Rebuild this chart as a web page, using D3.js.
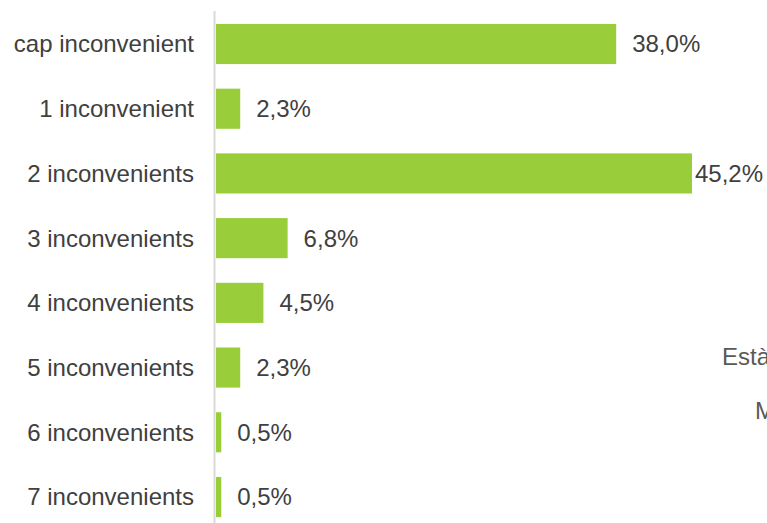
<!DOCTYPE html>
<html>
<head>
<meta charset="utf-8">
<script src="https://cdn.jsdelivr.net/npm/d3@7"></script>
<style>
  html, body { margin: 0; padding: 0; background: #fff; overflow: hidden; }
  text { font-family: "Liberation Sans", Arial, sans-serif; }
</style>
</head>
<body>
<div id="main"></div>
<script>
const categories = ["cap inconvenient", "1 inconvenient", "2 inconvenients", "3 inconvenients",
    "4 inconvenients", "5 inconvenients", "6 inconvenients", "7 inconvenients"];
const values = [38.0, 2.3, 45.2, 6.8, 4.5, 2.3, 0.5, 0.5];
const sideTexts = ["Està", "M"];

const W = 767, H = 523;
const fontSize = "24px";

const svg = d3.select("#main")
    .append("svg")
    .attr("width", W)
    .attr("height", H);

const x = d3.scaleLinear()
    .domain([0, 45.2])
    .range([216, 692]);

const y = d3.scaleBand()
    .domain(categories)
    .range([11, 530])
    .paddingInner(0.38)
    .paddingOuter(0.2);

const data = categories.map((c, i) => ({ cat: c, val: values[i] }));

// barres
svg.selectAll("rect.bar")
    .data(data)
    .join("rect")
    .attr("class", "bar")
    .attr("x", x(0))
    .attr("y", d => y(d.cat))
    .attr("width", d => x(d.val) - x(0))
    .attr("height", y.bandwidth())
    .style("fill", "#9ACD3A");

// eix vertical
svg.append("line")
    .attr("x1", 214.5).attr("x2", 214.5)
    .attr("y1", 11).attr("y2", H)
    .style("stroke", "#d9d9d9")
    .style("stroke-width", 2);

// etiquetes de categoria
svg.selectAll("text.cat")
    .data(data)
    .join("text")
    .attr("class", "cat")
    .attr("x", 194)
    .attr("y", d => y(d.cat) + y.bandwidth() / 2)
    .attr("dy", "0.35em")
    .attr("text-anchor", "end")
    .style("font-size", fontSize)
    .style("fill", "#404040")
    .text(d => d.cat);

// etiquetes de valor
const fmt = v => v.toFixed(1).replace(".", ",") + "%";
svg.selectAll("text.val")
    .data(data)
    .join("text")
    .attr("class", "val")
    .attr("y", d => y(d.cat) + y.bandwidth() / 2)
    .attr("dy", "0.35em")
    .style("font-size", fontSize)
    .style("fill", "#404040")
    .text(d => fmt(d.val))
    .attr("x", function (d) {
        const w = this.getComputedTextLength();
        return Math.min(x(d.val) + 16, W - w - 4);
    });

// textos tallats a la dreta (com a la referència)
svg.append("text")
    .attr("x", 722).attr("y", 365)
    .style("font-size", fontSize)
    .style("fill", "#595959")
    .text(sideTexts[0]);

svg.append("text")
    .attr("x", 755).attr("y", 419)
    .style("font-size", fontSize)
    .style("fill", "#595959")
    .text(sideTexts[1]);
</script>
</body>
</html>
